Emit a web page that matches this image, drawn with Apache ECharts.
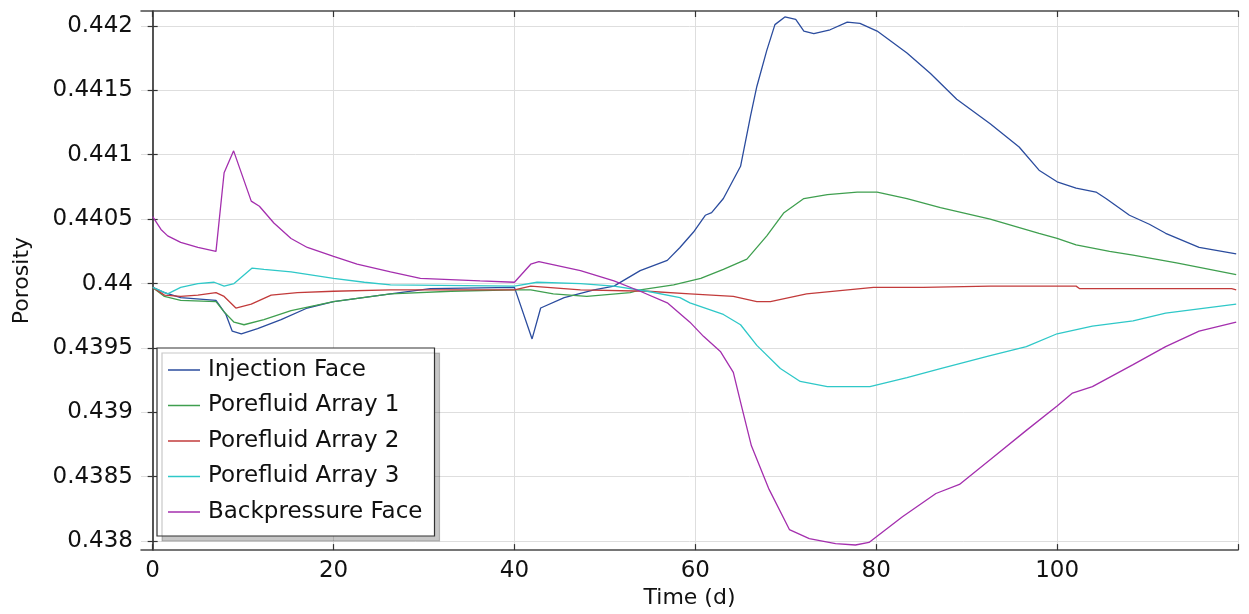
<!DOCTYPE html>
<html>
<head>
<meta charset="utf-8">
<script src="https://cdn.jsdelivr.net/npm/echarts@6/dist/echarts.min.js"></script>
<style>
html,body{margin:0;padding:0;background:#fff;}
#chart{width:1249px;height:614px;}
</style>
</head>
<body>
<div id="chart"></div>
<script>
// ---- data ----
const seriesNames = ['Injection Face', 'Porefluid Array 1', 'Porefluid Array 2', 'Porefluid Array 3', 'Backpressure Face'];
const xTicks = [0, 20, 40, 60, 80, 100, 120];
const xLabels = [0, 20, 40, 60, 80, 100];
const yTicks = [0.438, 0.4385, 0.439, 0.4395, 0.44, 0.4405, 0.441, 0.4415, 0.442];

const injectionFace = [[0,0.43997],[1.3,0.43993],[3.1,0.43989],[7,0.43987],[8.1,0.43976],[8.8,0.43963],[9.8,0.43961],[11.6,0.43965],[14.2,0.43972],[17.1,0.43981],[20,0.43986],[26.3,0.43992],[30.7,0.43996],[40,0.43997],[41.95,0.43957],[42.9,0.43981],[45.5,0.43989],[48.8,0.43995],[51,0.43998],[53.9,0.44010],[56.9,0.44018],[58.3,0.44028],[59.8,0.44040],[61.1,0.44053],[61.8,0.44055],[63.1,0.44066],[65.0,0.44091],[66.1,0.44130],[66.8,0.44153],[67.9,0.44181],[68.8,0.44201],[69.9,0.44207],[71.1,0.44205],[72.0,0.44196],[73.1,0.44194],[74.9,0.44197],[76.8,0.44203],[78.2,0.44202],[80.1,0.44196],[83.4,0.44179],[86,0.44163],[88.9,0.44143],[92.6,0.44124],[95.8,0.44106],[98,0.44088],[100,0.44079],[102.1,0.44074],[104.3,0.44071],[105.4,0.44066],[108,0.44053],[110.2,0.44046],[112,0.44039],[115.7,0.44028],[119.8,0.44023]];
const porefluid1 = [[0,0.43997],[1.3,0.43990],[3.1,0.43987],[7,0.43986],[7.9,0.43978],[9.0,0.43970],[10.1,0.43968],[12.3,0.43972],[15.3,0.43979],[20,0.43986],[26.3,0.43992],[33,0.43994],[40,0.43995],[41.8,0.43995],[44.3,0.43992],[48,0.43990],[52.8,0.43993],[53.9,0.43995],[57.6,0.43999],[60.6,0.44004],[63.1,0.44011],[65.7,0.44019],[67.9,0.44037],[69.8,0.44055],[72.0,0.44066],[74.6,0.44069],[77.9,0.44071],[80.1,0.44071],[83.4,0.44066],[87.1,0.44059],[92.6,0.44050],[98,0.44039],[100,0.44035],[102.1,0.44030],[105.8,0.44025],[108.4,0.44022],[113.2,0.44016],[119.8,0.44007]];
const porefluid2 = [[0,0.43997],[1.3,0.43991],[3.1,0.43990],[5,0.43991],[7,0.43993],[7.9,0.43990],[9.2,0.43981],[10.9,0.43984],[13.1,0.43991],[16,0.43993],[20,0.43994],[26.3,0.43995],[40,0.43995],[41.8,0.43998],[47.3,0.43995],[54.7,0.43994],[59.4,0.43992],[64.2,0.43990],[66.8,0.43986],[68.3,0.43986],[72.3,0.43992],[79.7,0.43997],[85.2,0.43997],[92.6,0.43998],[102.1,0.43998],[102.5,0.43996],[119.3,0.43996],[119.8,0.43995]];
const porefluid3 = [[0,0.43997],[1.66,0.43992],[3.1,0.43997],[5,0.44000],[6.8,0.44001],[7.9,0.43998],[9.0,0.44000],[11.0,0.44012],[12.3,0.44011],[15.3,0.44009],[20,0.44004],[23.4,0.44001],[26.3,0.43999],[40,0.43998],[42.5,0.44001],[47.3,0.44000],[51,0.43998],[54.7,0.43994],[58.3,0.43989],[59.4,0.43985],[63.1,0.43976],[65,0.43968],[66.8,0.43952],[69.4,0.43934],[71.6,0.43924],[74.6,0.43920],[79.3,0.43920],[83.4,0.43927],[87.1,0.43934],[92.6,0.43944],[96.6,0.43951],[100,0.43961],[103.9,0.43967],[108.4,0.43971],[112,0.43977],[119.8,0.43984]];
const backpressureFace = [[0,0.44052],[0.92,0.44042],[1.66,0.44037],[3.1,0.44032],[5,0.44028],[7.0,0.44025],[7.9,0.44086],[8.95,0.44103],[10.9,0.44064],[11.8,0.44060],[13.4,0.44047],[15.3,0.44035],[17.1,0.44028],[20,0.44021],[22.6,0.44015],[26.3,0.44009],[29.6,0.44004],[36.2,0.44002],[40,0.44001],[41.8,0.44015],[42.7,0.44017],[47.3,0.44010],[51,0.44002],[53.9,0.43994],[56.9,0.43985],[59.4,0.43970],[60.9,0.43959],[62.8,0.43947],[64.2,0.43931],[65.1,0.43905],[66.2,0.43874],[68.1,0.43841],[70.4,0.43809],[72.6,0.43802],[75.5,0.43798],[77.7,0.43797],[79.2,0.43799],[82.9,0.43819],[86.6,0.43837],[89.2,0.43844],[92.9,0.43865],[96.6,0.43886],[100,0.43905],[101.7,0.43915],[103.9,0.43920],[108.4,0.43937],[112,0.43951],[115.7,0.43963],[119.8,0.43970]];

const seriesData = [injectionFace, porefluid1, porefluid2, porefluid3, backpressureFace];
const colors = ['#2b4c9e', '#3f9f4f', '#c23b3b', '#2fc8c8', '#a42fae'];

// ---- chart ----
const FONT = 'DejaVu Sans';
const frame = {show: true, lineStyle: {color: '#4a4a4a', width: 1.5}};
const xMin = -1.29, xMax = 120;
const yMin = 0.4379305, yMax = 0.4421158;
const fmtY = v => String(parseFloat(Number(v).toFixed(4)));

const chart = echarts.init(document.getElementById('chart'), null, {renderer: 'canvas'});
chart.setOption({
  animation: false,
  backgroundColor: '#ffffff',
  color: colors,
  grid: {left: 141, top: 11, width: 1097, height: 542, containLabel: false},
  xAxis: [
    {
      type: 'value', position: 'bottom', min: xMin, max: xMax,
      axisLine: frame,
      axisTick: {show: true, inside: true, length: 6, lineStyle: {color: '#333', width: 1.2}, customValues: xTicks},
      axisLabel: {show: true, customValues: xLabels, fontFamily: FONT, fontSize: 23, color: '#111', margin: 9},
      splitLine: {show: true, lineStyle: {color: '#dedede', width: 1}},
      name: 'Time (d)', nameLocation: 'middle', nameGap: 36,
      nameTextStyle: {fontFamily: FONT, fontSize: 22, color: '#111'}
    },
    {
      type: 'value', position: 'top', min: xMin, max: xMax,
      axisLine: frame,
      axisTick: {show: true, inside: true, length: 6, lineStyle: {color: '#333', width: 1.2}, customValues: xTicks},
      axisLabel: {show: false},
      splitLine: {show: false}
    }
  ],
  yAxis: [
    {
      type: 'value', position: 'left', min: yMin, max: yMax,
      axisLine: frame,
      axisTick: {show: true, inside: true, length: 5, lineStyle: {color: '#333', width: 1.2}, customValues: yTicks},
      axisLabel: {show: true, customValues: yTicks, formatter: fmtY, fontFamily: FONT, fontSize: 23, color: '#111', margin: 8},
      splitLine: {show: true, lineStyle: {color: '#dedede', width: 1}},
      name: 'Porosity', nameLocation: 'middle', nameGap: 108, nameRotate: 90,
      nameTextStyle: {fontFamily: FONT, fontSize: 22, color: '#111'}
    },
    {
      type: 'value', position: 'right', min: yMin, max: yMax,
      axisLine: frame,
      axisTick: {show: true, inside: true, length: 5, lineStyle: {color: '#333', width: 1.2}, customValues: yTicks},
      axisLabel: {show: false},
      splitLine: {show: false}
    }
  ],
  legend: {
    show: true, orient: 'vertical', left: 157, top: 348,
    padding: [10, 12, 12, 11],
    itemGap: 11.5, itemWidth: 32, itemHeight: 14,
    backgroundColor: '#ffffff', borderColor: '#333', borderWidth: 1.2, borderRadius: 0,
    shadowColor: 'rgba(0,0,0,0.22)', shadowBlur: 0, shadowOffsetX: 5, shadowOffsetY: 5,
    textStyle: {fontFamily: FONT, fontSize: 23, color: '#111', lineHeight: 24, padding: [0, 0, 0, 3]},
    icon: 'path://M0,0 L32,0 L32,1.5 L0,1.5 Z',
    data: seriesNames
  },
  series: seriesNames.map((name, i) => ({
    name: name, type: 'line', xAxisIndex: 0, yAxisIndex: 0,
    data: seriesData[i], symbol: 'none', smooth: false,
    lineStyle: {width: 1.3, color: colors[i]},
    itemStyle: {color: colors[i]}
  }))
});
</script>
</body>
</html>
